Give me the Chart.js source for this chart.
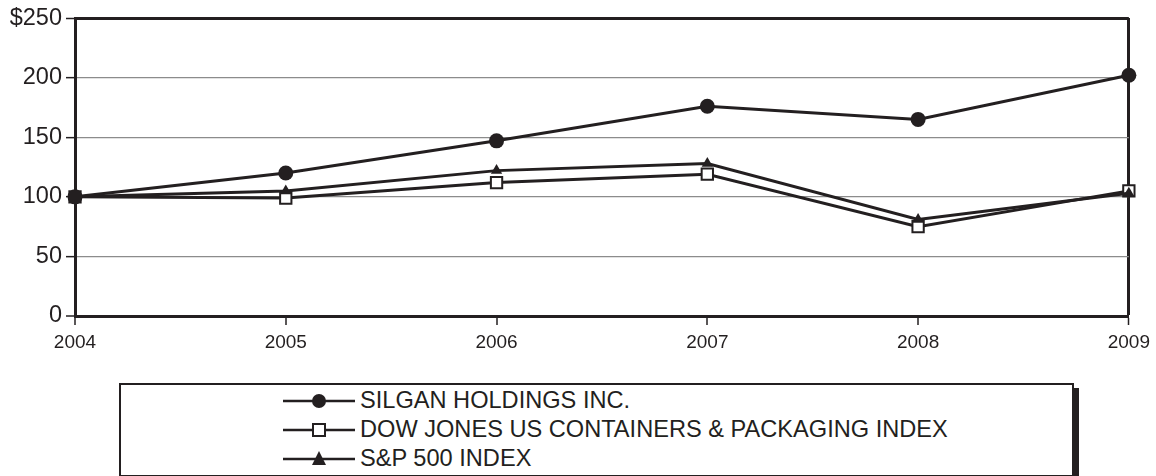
<!DOCTYPE html>
<html>
<head>
<meta charset="utf-8">
<script src="https://cdn.jsdelivr.net/npm/chart.js@4.4.1/dist/chart.umd.min.js"></script>
<style>
    html, body { margin: 0; padding: 0; background: #fff; }
    #wrap { position: relative; width: 1156px; height: 476px; overflow: hidden; font-family: "Liberation Sans", Arial, sans-serif; }
    #chart-box { position: absolute; left: 0; top: 0; width: 1156px; height: 360px; }
    #legend-box {
        position: absolute; left: 119px; top: 383px; width: 951px; height: 90px;
        border: 2px solid #231f20; box-shadow: 5px 5px 0 #231f20; background: #fff;
    }
    .legend-row { position: absolute; left: 162px; height: 29px; display: flex; align-items: center; }
    .legend-row svg { display: block; }
    .legend-row span { margin-left: 5px; font-size: 23.6px; color: #231f20; white-space: nowrap; }
</style>
</head>
<body>
<div id="wrap">
    <div id="chart-box"><canvas id="perfChart"></canvas></div>
    <div id="legend-box"></div>
</div>
<script>
// Cumulative total return, $100 invested in 2004
const years = ['2004', '2005', '2006', '2007', '2008', '2009'];
const silgan = [100, 120, 147, 176, 165, 202];
const dowJones = [100, 99, 112, 119, 75, 105];
const sp500 = [100, 105, 122, 128, 81, 103];
const seriesNames = ['SILGAN HOLDINGS INC.', 'DOW JONES US CONTAINERS & PACKAGING INDEX', 'S&P 500 INDEX'];
const yTicks = [0, 50, 100, 150, 200, 250];

const ink = '#231f20';
const gridGray = '#8c8c8c';

// Legend (HTML, below the chart)
function markerSvg(kind) {
    let mark = '';
    if (kind === 'circle') mark = '<circle cx="36" cy="14" r="7" fill="' + ink + '"/>';
    if (kind === 'rect') mark = '<rect x="30" y="8" width="12" height="12" fill="#fff" stroke="' + ink + '" stroke-width="2"/>';
    if (kind === 'triangle') mark = '<polygon points="36,6 43,20 29,20" fill="' + ink + '"/>';
    return '<svg width="72" height="28"><line x1="0" y1="14" x2="72" y2="14" stroke="' + ink + '" stroke-width="2.5"/>' + mark + '</svg>';
}

const legendBox = document.getElementById('legend-box');
const markerKinds = ['circle', 'rect', 'triangle'];
seriesNames.forEach((name, i) => {
    const row = document.createElement('div');
    row.className = 'legend-row';
    row.style.top = (1 + i * 29) + 'px';
    row.innerHTML = markerSvg(markerKinds[i]) + '<span></span>';
    row.querySelector('span').textContent = name;
    legendBox.appendChild(row);
});

const ctx = document.getElementById('perfChart').getContext('2d');
new Chart(ctx, {
    type: 'line',
    data: {
        labels: years,
        datasets: [
            {
                label: seriesNames[0],
                data: silgan,
                borderColor: ink,
                backgroundColor: ink,
                borderWidth: 3,
                pointStyle: 'circle',
                pointRadius: 7.5,
                pointBackgroundColor: ink,
                pointBorderColor: ink,
                pointBorderWidth: 0,
                tension: 0,
                clip: false,
                order: 0
            },
            {
                label: seriesNames[1],
                data: dowJones,
                borderColor: ink,
                backgroundColor: '#fff',
                borderWidth: 3,
                pointStyle: 'rect',
                pointRadius: 8,
                pointBackgroundColor: '#fff',
                pointBorderColor: ink,
                pointBorderWidth: 2,
                tension: 0,
                clip: false,
                order: 2
            },
            {
                label: seriesNames[2],
                data: sp500,
                borderColor: ink,
                backgroundColor: ink,
                borderWidth: 3,
                pointStyle: 'triangle',
                pointRadius: 6.5,
                pointBackgroundColor: ink,
                pointBorderColor: ink,
                pointBorderWidth: 0,
                tension: 0,
                clip: false,
                order: 1
            }
        ]
    },
    options: {
        responsive: true,
        maintainAspectRatio: false,
        animation: false,
        layout: { padding: { top: 17, right: 26, left: 0, bottom: 0 } },
        plugins: {
            legend: { display: false },
            tooltip: { enabled: false }
        },
        scales: {
            x: {
                offset: false,
                afterFit: (scale) => { scale.height = 44; },
                border: { display: true, color: ink, width: 3 },
                grid: {
                    color: (c) => c.index === years.length - 1 ? ink : 'rgba(0,0,0,0)',
                    lineWidth: (c) => c.index === years.length - 1 ? 3 : 0,
                    tickColor: ink,
                    tickWidth: 1.5,
                    tickLength: 9
                },
                ticks: {
                    color: ink,
                    padding: 6,
                    maxRotation: 0,
                    font: { family: 'Liberation Sans', size: 19 }
                }
            },
            y: {
                min: 0,
                max: 250,
                afterFit: (scale) => { scale.width = 75; },
                afterBuildTicks: (scale) => { scale.ticks = yTicks.map(v => ({ value: v })); },
                border: { display: true, color: ink, width: 3 },
                grid: {
                    color: (c) => c.tick && c.tick.value === 250 ? ink : gridGray,
                    lineWidth: (c) => c.tick && c.tick.value === 250 ? 3 : (c.tick && c.tick.value === 0 ? 0 : 1.3),
                    tickColor: ink,
                    tickWidth: 1.5,
                    tickLength: 9
                },
                ticks: {
                    color: ink,
                    padding: 4,
                    font: { family: 'Liberation Sans', size: 23.5 },
                    callback: (v) => v === 250 ? '$' + v : String(v)
                }
            }
        }
    }
});
</script>
</body>
</html>
